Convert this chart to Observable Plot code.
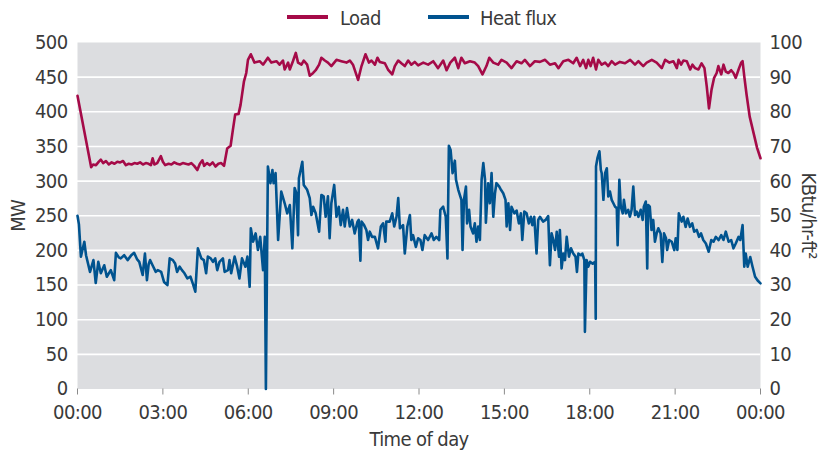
<!DOCTYPE html>
<html>
<head>
<meta charset="utf-8">
<script src="https://cdn.jsdelivr.net/npm/d3@7"></script>
<script src="https://cdn.jsdelivr.net/npm/@observablehq/plot@0.6"></script>
<style>
  html, body { margin: 0; padding: 0; background: #fff; }
  body { width: 823px; height: 453px; overflow: hidden; font-family: "DejaVu Sans Condensed", "DejaVu Sans", sans-serif; font-stretch: condensed; color: #3a3a3a; letter-spacing: -0.6px; }
  #legend { position: relative; width: 823px; height: 30px; }
  #legend .sw { position: absolute; height: 3.5px; width: 41px; top: 15px; }
  #legend .lb { position: absolute; font-size: 20px; line-height: 20px; top: 8px; white-space: nowrap; }
</style>
</head>
<body>
<div id="legend"></div>
<div id="chart"></div>
<script>
// ---- data ----
const seriesNames = ["Load", "Heat flux"];
const seriesColors = ["#a50a48", "#00538f"];

const loadHours = [0,0.48,0.55,0.65,0.75,0.82,0.9,1.0,1.1,1.2,1.3,1.4,1.5,1.6,1.7,1.8,1.9,2.0,2.1,2.2,2.3,2.4,2.5,2.58,2.64,2.7,2.8,2.93,3.0,3.08,3.2,3.3,3.4,3.5,3.6,3.7,3.8,3.9,4.0,4.1,4.21,4.3,4.39,4.45,4.55,4.65,4.75,4.85,4.95,5.05,5.15,5.26,5.38,5.46,5.54,5.66,5.73,5.85,5.93,5.99,6.09,
  6.22,6.4,6.52,6.69,6.81,6.99,7.1,7.22,7.28,7.4,7.46,7.57,7.67,7.75,7.87,7.95,8.07,8.16,8.28,8.37,8.49,8.57,8.69,8.8,8.92,9.1,9.27,9.45,9.57,9.68,9.86,9.98,10.12,10.24,10.33,10.45,10.54,10.62,10.8,10.91,11.06,11.15,11.27,11.38,11.5,11.62,11.73,11.85,11.97,12.15,12.32,12.5,12.67,12.85,12.97,13.1,13.26,13.38,13.49,13.61,13.79,13.96,14.08,14.23,14.37,14.47,14.61,14.78,14.9,15.08,15.25,15.43,15.6,15.72,15.9,16.07,16.25,16.43,16.6,16.78,16.9,17.07,17.25,17.42,17.54,17.66,17.77,17.87,17.95,18.03,18.12,18.22,18.3,18.42,18.54,18.65,18.77,18.89,19.06,19.24,19.42,19.59,19.71,19.88,20.0,20.18,20.35,20.53,20.65,20.8,20.94,21.06,21.12,21.21,21.29,21.41,21.53,21.61,21.7,21.82,21.93,22.03,22.11,22.19,22.28,22.37,22.46,22.52,22.62,22.7,22.78,22.87,22.97,23.05,23.13,23.23,23.32,23.37,23.43,23.51,23.62,23.77,23.88,24.0];
const loadMW = [423,320,324,323,328,331,326,329,324,327,325,328,327,329,323,325,324,326,325,327,324,326,325,323,333,324,326,336,328,323,325,324,327,325,324,326,325,324,326,322,316,325,330,322,326,323,327,321,325,326,322,347,351,374,396,397,410,444,456,475,483,
  471,473,468,478,471,473,468,474,461,471,461,473,485,471,468,474,468,452,456,460,468,478,474,471,466,475,473,471,474,468,446,466,483,471,474,468,478,472,470,461,454,466,474,470,466,474,468,472,467,471,468,473,463,474,460,471,478,463,478,470,473,471,466,454,466,478,471,468,475,471,463,473,470,475,466,473,472,475,468,470,463,473,475,470,478,466,475,463,475,466,478,461,475,468,471,466,473,468,472,470,475,468,473,466,471,475,471,463,475,471,473,463,475,468,474,473,461,468,463,461,470,463,437,405,432,449,456,466,454,468,458,456,460,456,449,461,471,473,451,425,393,367,348,333];

const fluxHours = [0,0.05,0.12,0.24,0.3,0.44,0.56,0.64,0.73,0.82,0.94,1.03,1.17,1.29,1.35,1.45,1.52,1.64,1.76,1.88,1.99,2.09,2.17,2.29,2.37,2.44,2.5,2.55,2.65,2.75,2.82,2.94,3.04,3.16,3.24,3.35,3.43,3.5,3.59,3.67,3.76,3.86,3.97,4.05,4.14,4.23,4.35,4.44,4.52,4.58,4.68,4.76,4.84,4.91,4.99,5.11,5.17,5.29,5.34,5.4,5.52,5.61,5.69,5.78,5.9,5.97,6.05,6.09,6.17,6.26,6.34,6.42,6.52,6.58,6.62,6.69,6.78,6.85,6.89,6.96,7.05,7.16,7.28,7.37,7.46,7.55,7.63,7.69,7.75,7.78,7.9,7.95,8.07,8.16,8.22,8.28,8.37,8.49,8.57,8.65,8.72,8.8,8.86,8.92,9.02,9.1,9.18,9.25,9.33,9.39,9.47,9.57,9.65,9.74,9.84,9.88,9.94,9.98,10.07,10.15,10.21,10.27,10.35,10.45,10.56,10.66,10.74,10.82,10.85,10.97,11.06,11.13,11.21,11.27,11.33,11.44,11.5,11.59,11.68,11.73,11.79,11.89,11.97,12.05,12.12,12.2,12.32,12.44,12.52,12.61,12.71,12.75,12.85,12.94,13.0,13.05,13.11,13.18,13.26,13.3,13.38,13.49,13.53,13.58,13.65,13.69,13.76,13.81,13.9,13.96,14.02,14.08,14.14,14.2,14.26,14.32,14.35,14.43,14.49,14.55,14.61,14.67,14.72,14.82,14.88,14.96,15.04,15.08,15.14,15.2,15.25,15.35,15.43,15.51,15.58,15.63,15.7,15.78,15.86,15.93,15.98,16.05,16.13,16.19,16.25,16.36,16.45,16.54,16.6,16.66,16.72,16.78,16.84,16.92,16.95,17.01,17.07,17.13,17.19,17.27,17.34,17.42,17.5,17.55,17.6,17.69,17.74,17.81,17.83,17.89,17.95,18.01,18.1,18.19,18.21,18.22,18.27,18.34,18.39,18.42,18.48,18.54,18.6,18.65,18.71,18.77,18.83,18.89,18.95,18.98,19.04,19.09,19.16,19.2,19.27,19.35,19.41,19.47,19.53,19.59,19.65,19.71,19.79,19.86,19.9,19.97,20.02,20.05,20.11,20.17,20.23,20.29,20.35,20.41,20.49,20.55,20.61,20.68,20.72,20.79,20.88,20.97,21.02,21.08,21.13,21.23,21.29,21.37,21.44,21.52,21.6,21.67,21.76,21.84,21.91,21.99,22.08,22.18,22.27,22.35,22.43,22.53,22.62,22.7,22.78,22.88,22.97,23.05,23.13,23.23,23.29,23.37,23.43,23.48,23.55,23.64,23.72,23.81,23.9,24.0];
const fluxKBtu = [50.0,47.5,38.2,42.5,38.6,33.8,37.2,30.6,36.7,33.4,35.7,32.4,34.3,31.4,39.3,38.0,37.7,38.6,37.2,38.5,39.3,37.5,36.7,32.9,39.1,31.4,36.0,37.2,35.5,33.8,34.3,33.8,30.9,30.0,37.7,37.2,36.2,33.8,35.3,34.3,33.4,31.9,32.4,30.5,28.1,40.6,37.7,37.2,33.4,38.2,37.7,36.7,37.7,34.3,36.7,37.7,33.8,34.3,37.2,33.4,38.2,35.3,31.9,37.7,35.3,38.2,29.5,46.4,42.5,44.9,40.1,43.9,34.3,43.9,0,64.2,59.4,63.2,59.4,62.3,43.0,57.0,53.6,50.7,53.1,40.6,58.0,56.5,44.4,60.8,65.6,58.9,57.5,55.1,50.2,52.6,50.7,45.4,56.0,55.6,49.7,55.6,43.5,53.6,58.9,49.7,52.6,47.3,51.7,46.9,52.2,46.9,48.8,44.9,48.3,48.8,37.0,48.3,47.3,45.9,43.0,45.4,43.9,43.9,40.6,46.9,47.8,42.5,48.3,48.3,50.7,46.9,49.7,55.1,46.4,47.3,39.1,46.9,50.2,43.0,44.4,41.0,43.5,43.0,40.1,44.4,43.0,44.9,43.0,43.9,43.0,51.7,52.6,49.7,37.7,70.2,69.0,62.3,65.9,60.4,57.5,54.6,40.1,54.6,58.4,47.8,51.7,46.9,44.9,47.8,42.5,46.9,43.0,60.4,65.2,60.4,48.0,59.4,53.6,62.3,49.7,56.5,59.4,58.4,57.5,56.5,54.6,46.9,53.6,45.9,52.6,50.7,51.5,47.8,50.7,43.0,51.2,50.7,47.8,49.7,47.3,49.7,39.1,48.8,49.7,48.3,48.8,49.9,35.7,44.9,43.0,40.1,45.4,38.2,45.9,34.8,39.1,37.2,43.9,38.2,40.6,39.1,38.2,33.8,39.1,38.6,39.1,37.2,16.5,37.2,35.3,36.7,36.2,36.7,20.3,64.2,66.6,68.6,63.2,62.3,54.6,62.3,63.7,55.6,57.0,54.6,53.6,52.6,52.2,41.5,60.4,52.6,50.7,54.6,50.7,51.7,49.7,51.7,58.4,50.2,51.2,49.7,51.7,48.8,52.6,54.1,34.8,53.1,52.6,45.9,48.8,42.5,44.9,46.4,44.9,36.7,44.9,43.5,40.1,43.0,42.5,40.1,43.5,40.1,50.7,48.3,49.7,46.8,49.2,46.8,47.8,45.4,45.9,43.9,44.9,43.0,42.0,39.6,43.0,42.5,43.9,43.0,44.4,43.0,45.4,42.5,43.0,40.6,42.0,43.9,43.0,47.3,35.3,39.1,35.3,38.1,35.3,32.4,31.3,30.5];

const xTicks = [0, 3, 6, 9, 12, 15, 18, 21, 24];
const mwTicks = [0, 50, 100, 150, 200, 250, 300, 350, 400, 450, 500];
const kbtuPerMW = 100 / 500; // right axis 0–100 maps to left 0–500
const xLabel = "Time of day";
const yLabelLeft = "MW";
const yLabelRight = "KBtu/hr-ft²";

// ---- build ----
const loadData = loadHours.map((h, i) => ({h, v: loadMW[i]}));
const fluxData = fluxHours.map((h, i) => ({h, v: fluxKBtu[i] / kbtuPerMW}));

const FONT = '"DejaVu Sans Condensed", "DejaVu Sans", sans-serif';

// legend
const legend = document.getElementById("legend");
const legendPos = [{sw: 287, lb: 340}, {sw: 428, lb: 480}];
seriesNames.forEach((name, i) => {
  const s = document.createElement("span");
  s.className = "sw";
  s.style.left = legendPos[i].sw + "px";
  s.style.background = seriesColors[i];
  legend.appendChild(s);
  const t = document.createElement("span");
  t.className = "lb";
  t.style.left = legendPos[i].lb + "px";
  t.textContent = name;
  legend.appendChild(t);
});

const fmtTime = d => String(d % 24).padStart(2, "0") + ":00";

const chart = Plot.plot({
  width: 823,
  height: 423,
  marginTop: 12,
  marginBottom: 64.5,
  marginLeft: 77,
  marginRight: 63,
  x: {domain: [0, 24]},
  y: {domain: [0, 500]},
  style: {fontFamily: FONT, fontSize: "20px", color: "#3a3a3a", background: "white", letterSpacing: "-0.6px"},
  marks: [
    Plot.frame({fill: "#dcdde0", stroke: "none"}),
    Plot.gridY(mwTicks.filter(d => d > 0 && d < 500), {stroke: "white", strokeOpacity: 1, strokeWidth: 1.6}),
    Plot.line(fluxData, {x: "h", y: "v", stroke: seriesColors[1], strokeWidth: 2.6, strokeLinejoin: "round"}),
    Plot.line(loadData, {x: "h", y: "v", stroke: seriesColors[0], strokeWidth: 2.6, strokeLinejoin: "round"}),
    Plot.axisX({ticks: xTicks, tickFormat: fmtTime, tickSize: 6, tickPadding: 10, stroke: "#8a8a8a", label: null, fontSize: 20}),
    Plot.axisY({ticks: mwTicks, tickSize: 0, tickPadding: 10, label: null, fontSize: 20}),
    Plot.axisY({anchor: "right", ticks: mwTicks, tickFormat: d => d * kbtuPerMW, tickSize: 0, tickPadding: 9, label: null, fontSize: 20}),
    Plot.text([yLabelLeft], {frameAnchor: "left", dx: -59, rotate: -90, textAnchor: "middle", lineAnchor: "middle", fontSize: 20, fill: "#3a3a3a"}),
    Plot.text([yLabelRight], {frameAnchor: "right", dx: 48, rotate: 90, textAnchor: "middle", lineAnchor: "middle", fontSize: 20, fill: "#3a3a3a"}),
    Plot.text([xLabel], {frameAnchor: "bottom", dy: 51, textAnchor: "middle", lineAnchor: "middle", fontSize: 20, fill: "#3a3a3a"})
  ]
});
document.getElementById("chart").appendChild(chart);
</script>
</body>
</html>
